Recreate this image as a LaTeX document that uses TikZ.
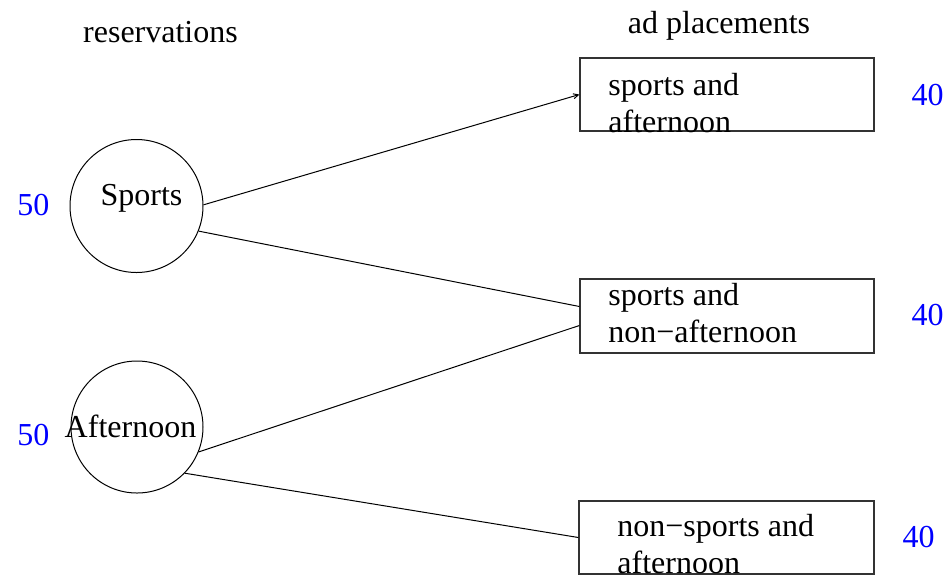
\documentclass[tikz,border=0pt]{standalone}
\usepackage{fontspec}
\setmainfont{Liberation Serif}
\usetikzlibrary{arrows.meta}
\begin{document}
\begin{tikzpicture}[x=0.5pt,y=-0.5pt,
  txt/.style={inner sep=0pt,font=\fontsize{16}{19}\selectfont},
  num/.style={txt,text={rgb,255:red,0;green,0;blue,255}},
  circ/.style={draw,circle,inner sep=0pt,line width=0.5pt},
  boxn/.style={draw,rectangle,inner sep=0pt,line width=0.6pt,draw=black!80,minimum width=147pt},
  conn/.style={line width=0.5pt}]
\useasboundingbox (0,0) rectangle (951,579);
% headers
\node[txt,anchor=base] (hres) at (160.5,42) {reservations};
\node[txt,anchor=base] (had) at (719,33) {ad placements};
% circles
\node[circ,minimum size=66.5pt] (sp) at (136.5,206) {};
\node[circ,minimum size=66pt] (af) at (137,427) {};
\node[txt,anchor=base] (tsp) at (141.5,205) {Sports};
\node[txt,anchor=base] (taf) at (130.5,437) {Afternoon};
\node[num,anchor=base] (n1) at (33.5,215) {50};
\node[num,anchor=base] (n2) at (33.5,445) {50};
% boxes
\node[boxn,minimum height=36.5pt] (b1) at (727,94.5) {};
\node[boxn,minimum height=37pt] (b2) at (727,316) {};
\node[boxn,minimum height=36.5pt,minimum width=147.5pt] (b3) at (726.5,537.5) {};
\node[txt,anchor=base west] (t1a) at (608,95) {sports and};
\node[txt,anchor=base west] (t1b) at (608,132) {afternoon};
\node[txt,anchor=base west] (t2a) at (608,305) {sports and};
\node[txt,anchor=base west] (t2b) at (608,342) {non−afternoon};
\node[txt,anchor=base west] (t3a) at (617,536) {non−sports and};
\node[txt,anchor=base west] (t3b) at (617,573) {afternoon};
\node[num,anchor=base] (m1) at (927.5,105) {40};
\node[num,anchor=base] (m2) at (927.5,325) {40};
\node[num,anchor=base] (m3) at (918.5,547) {40};
% connectors
\draw[conn,-{Straight Barb[length=2.5pt,width=2.5pt]}] (sp.1.7) -- (b1.west);
\draw[conn] (sp.-22.7) -- ([yshift=4.75pt]b2.west);
\draw[conn] (af.-22.6) -- ([yshift=-4.75pt]b2.west);
\draw[conn] (af.-44.4) -- (b3.west);
\end{tikzpicture}
\end{document}
